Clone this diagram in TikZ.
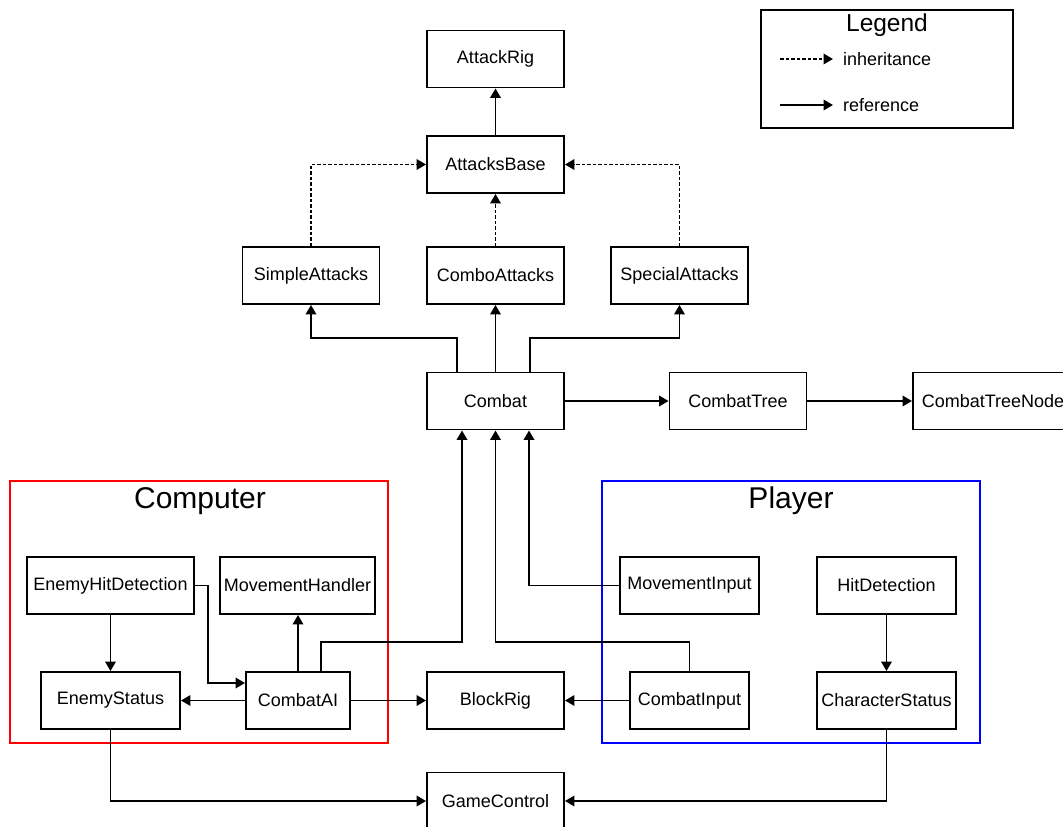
\documentclass[tikz,border=0pt]{standalone}
\usepackage{fontspec}
\setmainfont{Liberation Sans}
\usetikzlibrary{positioning}
\usetikzlibrary{arrows.meta}
\usetikzlibrary{calc}

\begin{document}
\begin{tikzpicture}[x=1pt,y=-1pt,
	cls/.style={draw, line width=1.9pt, minimum width=137pt, minimum height=57pt, inner sep=3pt, font=\fontsize{18}{21}\selectfont},
	ref/.style={line width=1.9pt, -{Triangle[length=9.5pt,width=10.5pt]}},
	inh/.style={ref, dash pattern=on 3.5pt off 2pt},
	frame/.style={draw, line width=1.9pt, minimum width=378pt, minimum height=262pt}]
			\useasboundingbox (0,0) rectangle (1063,827);
			% Define the groups
			\node[frame, draw=red] (computer) at (199,612) {};
			\node[frame, draw=blue] (player) at (791,612) {};
			\node[font=\fontsize{30}{34}\selectfont] (computerT) at (200,501) {Computer};
			\node[font=\fontsize{30}{34}\selectfont] (playerT) at (791,501) {Player};

			% Define the classes
			\node[cls] (rig) at (495.5,59) {AttackRig};
			\node[cls] (base) at (495.5,164.5) {AttacksBase};
			\node[cls] (simple) at (311,275.5) {SimpleAttacks};
			\node[cls] (combo) at (495.5,275.5) {ComboAttacks};
			\node[cls] (special) at (679.5,275.5) {SpecialAttacks};
			\node[cls] (combat) at (495.5,401) {Combat};
			\node[cls] (tree) at (738,401) {CombatTree};
			\node[cls, anchor=west, minimum width=160pt] (treenode) at (912,401) {CombatTreeNode};

			\node[cls, minimum width=167pt] (ehd) at (110.5,585.5) {EnemyHitDetection};
			\node[cls, minimum width=155pt] (mhandler) at (297.5,585.5) {MovementHandler};
			\node[cls, minimum width=139pt] (estatus) at (110.5,700.5) {EnemyStatus};
			\node[cls, minimum width=104pt] (ai) at (298,700.5) {CombatAI};
			\node[cls] (block) at (495.5,700.5) {BlockRig};
			\node[cls, minimum width=139pt] (minput) at (689.5,585.5) {MovementInput};
			\node[cls, minimum width=119pt] (cinput) at (689.5,700.5) {CombatInput};
			\node[cls, minimum width=139pt] (hit) at (886.5,585.5) {HitDetection};
			\node[cls, minimum width=139pt] (cstatus) at (886.5,700.5) {CharacterStatus};
			\node[cls] (game) at (495.5,801) {GameControl};

			% Legend
			\node[draw, line width=1.9pt, minimum width=252pt, minimum height=118pt] (legend) at (887,69) {};
			\node[font=\fontsize{24.5}{28}\selectfont] (legendT) at (887,25) {Legend};
			\coordinate (inhA) at (780,59);
			\coordinate (inhB) at (833,59);
			\coordinate (refA) at (780,105);
			\coordinate (refB) at (833,105);
			\node[anchor=west, font=\fontsize{18}{21}\selectfont, inner sep=0pt] (inhT) at (843,59) {inheritance};
			\node[anchor=west, font=\fontsize{18}{21}\selectfont, inner sep=0pt] (refT) at (843,105) {reference};
			\draw[inh] (inhA) -- (inhB);
			\draw[ref] (refA) -- (refB);

			% Draw the inheritance
			\draw[ref] (base) -- (rig);
			\draw[inh] (simple.north) |- (base.west);
			\draw[inh] (combo) -- (base);
			\draw[inh] (special.north) |- (base.east);

			% Draw the references
			\draw[ref] ([xshift=-38.5pt]combat.north) -- ++(0,-34) -| (simple.south);
			\draw[ref] (combat) -- (combo);
			\draw[ref] ([xshift=34.5pt]combat.north) -- ++(0,-34) -| (special.south);
			\draw[ref] (combat) -- (tree);
			\draw[ref] (tree) -- (treenode);

			\draw[ref] ([xshift=23pt]ai.north) -- ++(0,-29) -| ([xshift=-33.5pt]combat.south);
			\draw[ref] (cinput.north) -- ++(0,-29) -| (combat.south);
			\draw[ref] (minput.west) -| ([xshift=33.5pt]combat.south);

			\draw[ref] (ai.north) -- (ai.north |- mhandler.south);
			\draw[ref] (ehd.east) -- ++(13,0) |- ([yshift=17.5pt]ai.west);
			\draw[ref] (ehd) -- (estatus);
			\draw[ref] (ai) -- (estatus);
			\draw[ref] (ai) -- (block);
			\draw[ref] (cinput) -- (block);
			\draw[ref] (hit) -- (cstatus);
			\draw[ref] (estatus.south) |- (game.west);
			\draw[ref] (cstatus.south) |- (game.east);
\end{tikzpicture}
\end{document}
